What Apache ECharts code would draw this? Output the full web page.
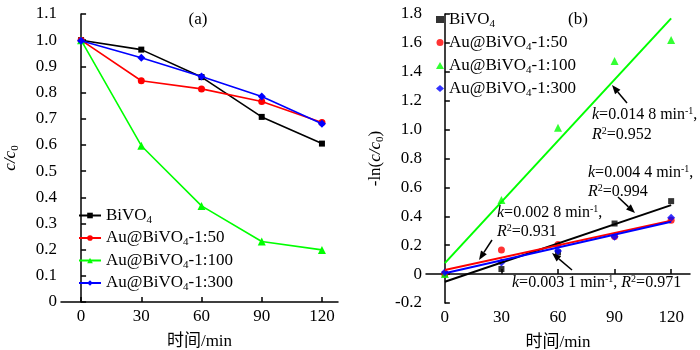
<!DOCTYPE html>
<html><head><meta charset="utf-8">
<script src="https://cdn.jsdelivr.net/npm/echarts@6/dist/echarts.min.js"></script>
<style>html,body{margin:0;padding:0;background:#fff}#c{width:700px;height:350px}</style>
</head><body><div id="c"></div>
<script>
// ---- data ----
const time = [0, 30, 60, 90, 120];
const seriesNames = ['BiVO4', 'Au@BiVO4-1:50', 'Au@BiVO4-1:100', 'Au@BiVO4-1:300'];
// (a) c/c0
const ratioBiVO4 = [1.0, 0.964, 0.859, 0.707, 0.605];
const ratioAu50  = [1.0, 0.845, 0.814, 0.766, 0.686];
const ratioAu100 = [1.0, 0.597, 0.367, 0.231, 0.199];
const ratioAu300 = [0.998, 0.933, 0.861, 0.785, 0.681];
// (b) -ln(c/c0)
const lnBiVO4 = [0.0, 0.035, 0.15, 0.35, 0.505];
const lnAu50  = [0.0, 0.166, 0.205, 0.26, 0.372];
const lnAu100 = [0.0, 0.512, 1.012, 1.475, 1.62];
const lnAu300 = [0.012, 0.081, 0.159, 0.258, 0.39];
// fitted lines (values at fitX ends)
const fitX = [0, 120];
const fitBiVO4 = [-0.053, 0.477];
const fitAu50  = [0.028, 0.370];
const fitAu100 = [0.076, 1.770];
const fitAu300 = [0.006, 0.362];
const xTicks = [0, 30, 60, 90, 120];
const fitLabels = [
  ['{i|k}=0.014 8 min{sup|-1},', '{i|R}{sup|2}=0.952'],
  ['{i|k}=0.004 4 min{sup|-1},', '{i|R}{sup|2}=0.994'],
  ['{i|k}=0.002 8 min{sup|-1},', '{i|R}{sup|2}=0.931'],
  ['{i|k}=0.003 1 min{sup|-1}, {i|R}{sup|2}=0.971']
];

// ---- styles ----
const FONT = "'Liberation Serif','Times New Roman','Noto Sans CJK SC',serif";
const colors = ['#000000', '#ff0000', '#00ff00', '#0000ff'];
const symbols = ['rect', 'circle', 'triangle', 'diamond'];
const symSizes = [6, 7, 8, 8];
const ratios = [ratioBiVO4, ratioAu50, ratioAu100, ratioAu300];
const lns = [lnBiVO4, lnAu50, lnAu100, lnAu300];
const fits = [fitBiVO4, fitAu50, fitAu100, fitAu300];
const zip = (xs, ys) => xs.map((x, i) => [x, ys[i]]);

function richName(name) {
  const i = name.indexOf('BiVO4');
  const a = name.slice(0, i + 4), b = name.slice(i + 5);
  return '{t|' + a + '}{s|4}' + (b ? '{t|' + b + '}' : '');
}
const legendRich = {
  t: {fontFamily: FONT, fontSize: 17, lineHeight: 20, color: '#000'},
  s: {fontFamily: FONT, fontSize: 11, lineHeight: 9, verticalAlign: 'bottom', color: '#000'}
};
const annRich = {
  i: {fontFamily: FONT, fontSize: 16, fontStyle: 'italic', color: '#000', lineHeight: 18},
  sup: {fontFamily: FONT, fontSize: 10, color: '#000', lineHeight: 8, verticalAlign: 'top'}
};

const axisLine = {lineStyle: {color: '#000', width: 1.5}};
const axisTick = {inside: true, length: 5, lineStyle: {color: '#000', width: 1.5}};
const labelStyle = {fontFamily: FONT, fontSize: 17, color: '#000'};
function fmt1(v) { return Math.abs(v) < 1e-9 ? '0' : v.toFixed(1); }

const xAxisCommon = (gi, max) => ({
  type: 'value', gridIndex: gi, min: -10, max: max,
  axisLine: axisLine, splitLine: {show: false},
  axisTick: Object.assign({customValues: xTicks}, axisTick),
  axisLabel: Object.assign({customValues: xTicks, margin: 6}, labelStyle),
  name: '时间/min', nameLocation: 'middle', nameGap: 31,
  nameTextStyle: {fontFamily: FONT, fontSize: 17, color: '#000'}
});

const series = [];
seriesNames.forEach((n, k) => {
  series.push({
    type: 'line', name: n, xAxisIndex: 0, yAxisIndex: 0,
    data: zip(time, ratios[k]), symbol: symbols[k], symbolSize: symSizes[k],
    lineStyle: {color: colors[k], width: 1.6}, itemStyle: {color: colors[k]},
    z: 2 + k
  });
});
seriesNames.forEach((n, k) => {
  series.push({
    type: 'scatter', name: n + ' ', xAxisIndex: 1, yAxisIndex: 1,
    data: zip(time, lns[k]), symbol: symbols[k], symbolSize: symSizes[k],
    itemStyle: {color: colors[k]}, z: 2
  });
});
[2, 0, 1, 3].forEach(k => {
  series.push({
    type: 'line', name: 'fit' + k, xAxisIndex: 1, yAxisIndex: 1,
    data: zip(fitX, fits[k]), symbol: 'none',
    lineStyle: {color: colors[k], width: 2}, z: 3
  });
});

function arrow(x1, y1, x2, y2) {
  const a = Math.atan2(y2 - y1, x2 - x1), L = 9, W = 3.5;
  const bx = x2 - L * Math.cos(a), by = y2 - L * Math.sin(a);
  const px = -Math.sin(a) * W, py = Math.cos(a) * W;
  return [
    {type: 'line', shape: {x1: x1, y1: y1, x2: bx, y2: by}, style: {stroke: '#000', lineWidth: 1.5}},
    {type: 'polygon', shape: {points: [[x2, y2], [bx + px, by + py], [bx - px, by - py]]}, style: {fill: '#000'}}
  ];
}
function txt(s, x, y) {
  return {type: 'text', x: x, y: y, style: {text: s, fontFamily: FONT, fontSize: 16, fill: '#000',
    verticalAlign: 'middle', align: 'left', rich: annRich}};
}
const graphics = [
  {type: 'text', x: 198, y: 20, style: {text: '(a)', fontFamily: FONT, fontSize: 17, fill: '#000', align: 'center', verticalAlign: 'middle'}},
  {type: 'text', x: 578, y: 20, style: {text: '(b)', fontFamily: FONT, fontSize: 17, fill: '#000', align: 'center', verticalAlign: 'middle'}},
  txt(fitLabels[0][0], 592, 115), txt(fitLabels[0][1], 592, 135),
  txt(fitLabels[1][0], 588, 173), txt(fitLabels[1][1], 588, 192),
  txt(fitLabels[2][0], 497, 213), txt(fitLabels[2][1], 497, 232),
  txt(fitLabels[3][0], 512, 283),
  ...arrow(627, 103, 612, 85),
  ...arrow(618, 197, 635, 213),
  ...arrow(492, 240, 479, 260),
  ...arrow(572, 270, 552, 253)
];

const chart = echarts.init(document.getElementById('c'), null, {renderer: 'canvas'});
chart.setOption({
  animation: false,
  backgroundColor: '#fff',
  grid: [
    {left: 61, top: 14, width: 277, height: 288, outerBoundsMode: 'none', containLabel: false},
    {left: 426, top: 14, width: 264, height: 289, outerBoundsMode: 'none', containLabel: false}
  ],
  xAxis: [xAxisCommon(0, 128), xAxisCommon(1, 130)],
  yAxis: [
    {type: 'value', gridIndex: 0, min: 0, max: 1.1, interval: 0.1,
     axisLine: Object.assign({show: true}, axisLine), axisTick: axisTick, splitLine: {show: false},
     axisLabel: Object.assign({formatter: fmt1, margin: 4}, labelStyle),
     name: '{i|c}{i|/}{i|c}{s|0}', nameLocation: 'middle', nameGap: 40,
     nameTextStyle: {rich: {
       i: {fontFamily: FONT, fontSize: 17, fontStyle: 'italic', color: '#000', lineHeight: 20},
       s: {fontFamily: FONT, fontSize: 11, color: '#000', lineHeight: 9, verticalAlign: 'bottom'}}}},
    {type: 'value', gridIndex: 1, min: -0.2, max: 1.8, interval: 0.2,
     axisLine: Object.assign({show: true}, axisLine), axisTick: axisTick, splitLine: {show: false},
     axisLabel: Object.assign({formatter: fmt1, margin: 4}, labelStyle),
     name: '{n|-ln(}{i|c}{i|/}{i|c}{s|0}{n|)}', nameLocation: 'middle', nameGap: 40,
     nameTextStyle: {rich: {
       n: {fontFamily: FONT, fontSize: 17, color: '#000', lineHeight: 20},
       i: {fontFamily: FONT, fontSize: 17, fontStyle: 'italic', color: '#000', lineHeight: 20},
       s: {fontFamily: FONT, fontSize: 11, color: '#000', lineHeight: 9, verticalAlign: 'bottom'}}}}
  ],
  legend: [
    {data: seriesNames, orient: 'vertical', left: 78, top: 207, padding: 0, itemWidth: 22, itemHeight: 7, itemGap: 4,
     selectedMode: false, formatter: richName, textStyle: {rich: legendRich}},
    {data: seriesNames.map(n => n + ' '), orient: 'vertical', left: 436, top: 11, padding: 0, itemWidth: 8, itemHeight: 7, itemGap: 4.5,
     selectedMode: false, formatter: n => richName(n.trim()), textStyle: {rich: legendRich}}
  ],
  series: series,
  graphic: graphics
});
</script>
</body></html>
